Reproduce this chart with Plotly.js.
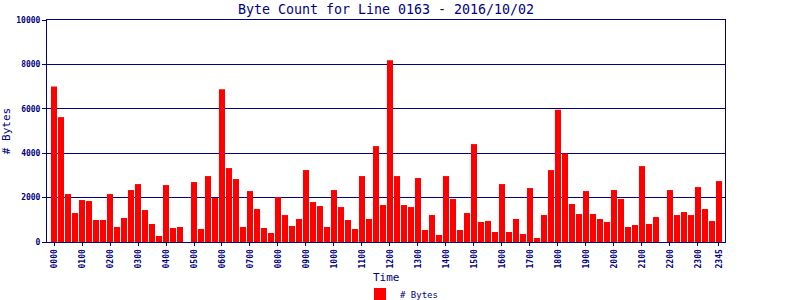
<!DOCTYPE html>
<html><head><meta charset="utf-8">
<script src="https://cdn.plot.ly/plotly-3.0.1.min.js"></script>
<style>html,body{margin:0;padding:0;background:#fff}#chart{width:800px;height:300px}</style>
</head><body><div id="chart"></div>
<script>
const times = [
"0000","0015","0030","0045","0100","0115","0130","0145","0200","0215","0230","0245",
"0300","0315","0330","0345","0400","0415","0430","0445","0500","0515","0530","0545",
"0600","0615","0630","0645","0700","0715","0730","0745","0800","0815","0830","0845",
"0900","0915","0930","0945","1000","1015","1030","1045","1100","1115","1130","1145",
"1200","1215","1230","1245","1300","1315","1330","1345","1400","1415","1430","1445",
"1500","1515","1530","1545","1600","1615","1630","1645","1700","1715","1730","1745",
"1800","1815","1830","1845","1900","1915","1930","1945","2000","2015","2030","2045",
"2100","2115","2130","2145","2200","2215","2230","2245","2300","2315","2330","2345"];
const bytes = [
7000,5625,2160,1305,1890,1845,990,990,2160,675,1080,2340,
2610,1440,810,270,2565,630,675,0,2700,585,2970,1980,
6885,3330,2835,675,2295,1485,630,405,2025,1215,720,1035,
3240,1800,1620,675,2340,1575,990,585,2970,1035,4320,1665,
8190,2970,1665,1575,2880,540,1215,315,2970,1935,540,1305,
4410,900,945,450,2610,450,1035,360,2430,180,1215,3240,
5955,3990,1710,1260,2295,1260,1035,900,2340,1935,675,765,
3420,810,1125,0,2340,1215,1350,1215,2475,1485,945,2745];
const tickTimes = ["0000","0100","0200","0300","0400","0500","0600","0700","0800","0900","1000","1100",
"1200","1300","1400","1500","1600","1700","1800","1900","2000","2100","2200","2300","2345"];
const yTicks = [0,2000,4000,6000,8000,10000];

const navy = '#000080';
const mono = '"DejaVu Sans Mono", "Liberation Mono", monospace';

const trace = {
  type: 'bar', x: times, y: bytes, name: '# Bytes',
  marker: {color: '#ff0000', line: {width: 0}},
  showlegend: true
};
const layout = {
  width: 800, height: 300,
  margin: {l: 47, r: 75, t: 20, b: 58},
  paper_bgcolor: '#fff', plot_bgcolor: '#fff',
  bargap: 0.14,
  title: {text: 'Byte Count for Line 0163 - 2016/10/02', font: {family: mono, size: 13.3, color: navy},
          x: 0.4825, xanchor: 'center', xref: 'container', y: 0.97, yref: 'container', yanchor: 'middle'},
  xaxis: {
    type: 'category', range: [-1, 95.86],
    tickvals: tickTimes, ticktext: tickTimes, tickangle: -90,
    tickfont: {family: mono, size: 8, color: navy, weight: 'bold'},
    ticks: 'outside', ticklen: 3, tickcolor: navy,
    showline: true, linecolor: navy, linewidth: 1, mirror: true,
    showgrid: false, zeroline: false
  },
  yaxis: {
    range: [0, 10000], tickvals: yTicks, ticktext: yTicks.map(String),
    tickfont: {family: mono, size: 8, color: navy, weight: 'bold'},
    ticks: 'outside', ticklen: 4, tickcolor: navy,
    showline: true, linecolor: navy, linewidth: 1, mirror: true,
    showgrid: true, gridcolor: navy, gridwidth: 1, zeroline: false,
    title: {text: '# Bytes', font: {family: mono, size: 11, color: navy}, standoff: 6}
  },
  annotations: [{text: 'Time', xref: 'paper', yref: 'paper', x: 0.5, y: -0.162,
                 xanchor: 'center', yanchor: 'middle', showarrow: false,
                 font: {family: mono, size: 11, color: navy}}],
  showlegend: true,
  legend: {orientation: 'h', xref: 'container', yref: 'container', x: 0.45, y: 0.02,
           xanchor: 'left', yanchor: 'middle',
           font: {family: mono, size: 9, color: navy}, bgcolor: 'rgba(0,0,0,0)'}
};
Plotly.newPlot('chart', [trace], layout, {displayModeBar: false, staticPlot: true});
</script></body></html>
